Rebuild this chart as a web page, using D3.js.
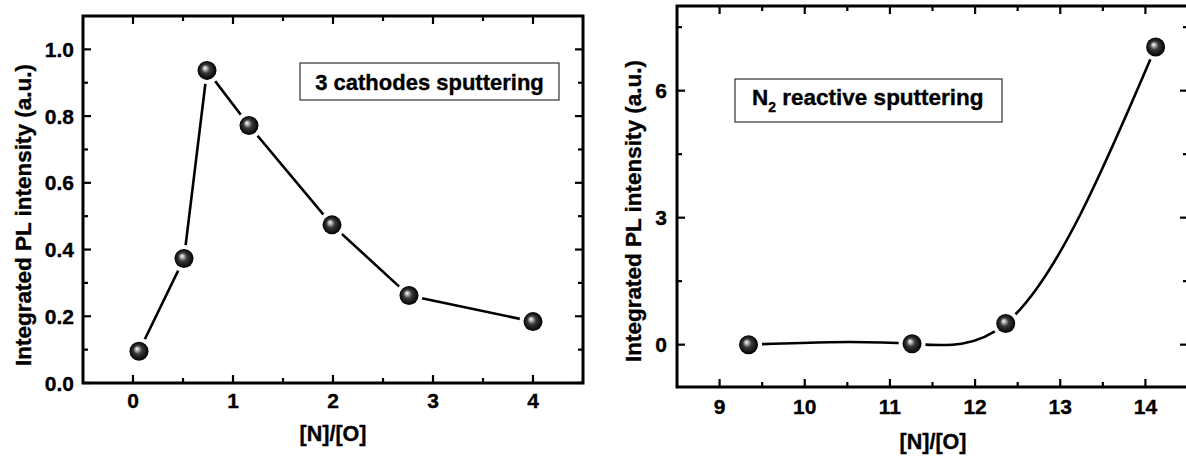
<!DOCTYPE html>
<html>
<head>
<meta charset="utf-8">
<script src="https://cdn.jsdelivr.net/npm/d3@7"></script>
<style>
  html, body { margin: 0; padding: 0; background: #fff; }
  svg { display: block; }
  text { font-family: "Liberation Sans", Arial, sans-serif; font-weight: bold; fill: #000; stroke: #000; stroke-width: 0.35px; }
</style>
</head>
<body>
<svg id="chart" width="1186" height="457"></svg>
<script>
// ---- Data ----
const leftX = [0.06, 0.51, 0.74, 1.16, 1.99, 2.76, 4.0];
const leftY = [0.095, 0.373, 0.937, 0.772, 0.474, 0.262, 0.184];
const leftXTicks = [0, 1, 2, 3, 4];
const leftYTicks = [0.0, 0.2, 0.4, 0.6, 0.8, 1.0];
const leftLegend = "3 cathodes sputtering";

const rightX = [9.34, 11.26, 12.36, 14.12];
const rightY = [0.0, 0.02, 0.5, 7.03];
const rightXTicks = [9, 10, 11, 12, 13, 14];
const rightYTicks = [0, 3, 6];

const xTitle = "[N]/[O]";
const yTitle = "Integrated PL intensity (a.u.)";

// Custom d3 curve: natural cubic spline y(x) (as Origin's "spline" connect)
function NaturalX(context) { this._context = context; }
NaturalX.prototype = {
  areaStart() { this._line = 0; },
  areaEnd() { this._line = NaN; },
  lineStart() { this._xs = []; this._ys = []; },
  point(x, y) { this._xs.push(+x); this._ys.push(+y); },
  lineEnd() {
    const X = this._xs, Y = this._ys, n = X.length, c = this._context;
    if (!n) return;
    c.moveTo(X[0], Y[0]);
    if (n === 2) { c.lineTo(X[1], Y[1]); return; }
    const h = [], s = [];
    for (let i = 0; i < n - 1; i++) { h.push(X[i + 1] - X[i]); s.push((Y[i + 1] - Y[i]) / h[i]); }
    // solve tridiagonal for second derivatives M (natural ends)
    const M = new Array(n).fill(0);
    const m = n - 2, a = [], b = [], cc = [], d = [];
    for (let i = 1; i <= m; i++) {
      a.push(h[i - 1]); b.push(2 * (h[i - 1] + h[i])); cc.push(h[i]); d.push(6 * (s[i] - s[i - 1]));
    }
    for (let i = 1; i < m; i++) {
      const w = a[i] / b[i - 1];
      b[i] -= w * cc[i - 1]; d[i] -= w * d[i - 1];
    }
    const sol = new Array(m);
    sol[m - 1] = d[m - 1] / b[m - 1];
    for (let i = m - 2; i >= 0; i--) sol[i] = (d[i] - cc[i] * sol[i + 1]) / b[i];
    for (let i = 0; i < m; i++) M[i + 1] = sol[i];
    for (let i = 0; i < n - 1; i++) {
      const d0 = s[i] - h[i] * (2 * M[i] + M[i + 1]) / 6;
      const d1 = s[i] + h[i] * (M[i] + 2 * M[i + 1]) / 6;
      c.bezierCurveTo(X[i] + h[i] / 3, Y[i] + d0 * h[i] / 3,
                      X[i + 1] - h[i] / 3, Y[i + 1] - d1 * h[i] / 3,
                      X[i + 1], Y[i + 1]);
    }
  }
};
const curveNaturalX = ctx => new NaturalX(ctx);

const svg = d3.select("#chart");

// sphere gradient
const defs = svg.append("defs");
const grad = defs.append("radialGradient").attr("id", "sphere")
  .attr("cx", "50%").attr("cy", "50%").attr("r", "50%")
  .attr("fx", "38%").attr("fy", "36%");
grad.append("stop").attr("offset", "0%").attr("stop-color", "#ffffff");
grad.append("stop").attr("offset", "14%").attr("stop-color", "#c8c8c8");
grad.append("stop").attr("offset", "45%").attr("stop-color", "#3a3a3a");
grad.append("stop").attr("offset", "100%").attr("stop-color", "#000000");

function panel(opts) {
  const { x0, x1, y0, y1, xDomain, yDomain, xTicks, xMinor, yTicks, yMinor,
          xs, ys, curve, yFmt, yLabelX, yTitleX, yTitleY, xTitleX, xTitleY, xLabelY } = opts;
  const g = svg.append("g");
  const x = d3.scaleLinear().domain(xDomain).range([x0, x1]);
  const y = d3.scaleLinear().domain(yDomain).range([y1, y0]);

  const major = 8, minor = 5;
  const tickG = g.append("g").attr("stroke", "#000").attr("stroke-width", 2.2);
  xTicks.forEach(v => {
    tickG.append("line").attr("x1", x(v)).attr("x2", x(v)).attr("y1", y1).attr("y2", y1 - major);
    tickG.append("line").attr("x1", x(v)).attr("x2", x(v)).attr("y1", y0).attr("y2", y0 + major);
  });
  xMinor.forEach(v => {
    tickG.append("line").attr("x1", x(v)).attr("x2", x(v)).attr("y1", y1).attr("y2", y1 - minor);
    tickG.append("line").attr("x1", x(v)).attr("x2", x(v)).attr("y1", y0).attr("y2", y0 + minor);
  });
  yTicks.forEach(v => {
    tickG.append("line").attr("y1", y(v)).attr("y2", y(v)).attr("x1", x0).attr("x2", x0 + major);
    tickG.append("line").attr("y1", y(v)).attr("y2", y(v)).attr("x1", x1).attr("x2", x1 - major);
  });
  yMinor.forEach(v => {
    tickG.append("line").attr("y1", y(v)).attr("y2", y(v)).attr("x1", x0).attr("x2", x0 + minor);
    tickG.append("line").attr("y1", y(v)).attr("y2", y(v)).attr("x1", x1).attr("x2", x1 - minor);
  });

  g.append("rect").attr("x", x0).attr("y", y0).attr("width", x1 - x0).attr("height", y1 - y0)
    .attr("fill", "none").attr("stroke", "#000").attr("stroke-width", 3);

  xTicks.forEach(v => {
    g.append("text").attr("x", x(v)).attr("y", xLabelY).attr("text-anchor", "middle")
      .attr("font-size", 21).text(v);
  });
  yTicks.forEach(v => {
    g.append("text").attr("x", yLabelX).attr("y", y(v)).attr("dy", "0.36em")
      .attr("text-anchor", "end").attr("font-size", 21).text(yFmt(v));
  });

  g.append("text").attr("x", xTitleX).attr("y", xTitleY).attr("text-anchor", "middle")
    .attr("font-size", 21.5).text(xTitle);
  g.append("text").attr("transform", `translate(${yTitleX},${yTitleY}) rotate(-90)`)
    .attr("text-anchor", "middle").attr("font-size", 22.5).text(yTitle);

  const pts = xs.map((v, i) => [v, ys[i]]);
  const line = d3.line().x(d => x(d[0])).y(d => y(d[1])).curve(curve);
  g.append("path").attr("d", line(pts)).attr("fill", "none")
    .attr("stroke", "#000").attr("stroke-width", 2.6);
  g.selectAll("circle.gap").data(pts).join("circle").attr("class", "gap")
    .attr("cx", d => x(d[0])).attr("cy", d => y(d[1])).attr("r", 13.5).attr("fill", "#fff");
  g.selectAll("circle.pt").data(pts).join("circle").attr("class", "pt")
    .attr("cx", d => x(d[0])).attr("cy", d => y(d[1])).attr("r", 9.5)
    .attr("fill", "url(#sphere)");
  return { g, x, y };
}

// Left panel
const L = panel({
  x0: 83, x1: 583, y0: 16, y1: 383,
  xDomain: [-0.5, 4.5], yDomain: [0, 1.1],
  xTicks: leftXTicks, xMinor: [0.5, 1.5, 2.5, 3.5],
  yTicks: leftYTicks, yMinor: [0.1, 0.3, 0.5, 0.7, 0.9],
  xs: leftX, ys: leftY, curve: d3.curveLinear,
  yFmt: d3.format(".1f"), yLabelX: 74, yTitleX: 31, yTitleY: 215,
  xTitleX: 333, xTitleY: 441, xLabelY: 408
});
L.g.append("rect").attr("x", 300).attr("y", 63).attr("width", 259).attr("height", 37)
  .attr("fill", "#fff").attr("stroke", "#333").attr("stroke-width", 1.2);
L.g.append("text").attr("x", 429.5).attr("y", 90).attr("text-anchor", "middle")
  .attr("font-size", 22).text(leftLegend);

// Right panel
const R = panel({
  x0: 677, x1: 1188, y0: 6, y1: 387,
  xDomain: [8.5, 14.5], yDomain: [-1, 8],
  xTicks: rightXTicks, xMinor: [9.5, 10.5, 11.5, 12.5, 13.5],
  yTicks: rightYTicks, yMinor: [1.5, 4.5, 7.5],
  xs: rightX, ys: rightY, curve: curveNaturalX,
  yFmt: d3.format("d"), yLabelX: 667, yTitleX: 641, yTitleY: 211,
  xTitleX: 933, xTitleY: 449, xLabelY: 414
});
R.g.append("rect").attr("x", 735).attr("y", 79).attr("width", 267).attr("height", 43)
  .attr("fill", "#fff").attr("stroke", "#333").attr("stroke-width", 1.2);
const rt = R.g.append("text").attr("x", 752).attr("y", 105).attr("font-size", 22.5);
rt.append("tspan").text("N");
rt.append("tspan").attr("font-size", 14).attr("dy", 7).text("2");
rt.append("tspan").attr("dy", -7).text(" reactive sputtering");
</script>
</body>
</html>
